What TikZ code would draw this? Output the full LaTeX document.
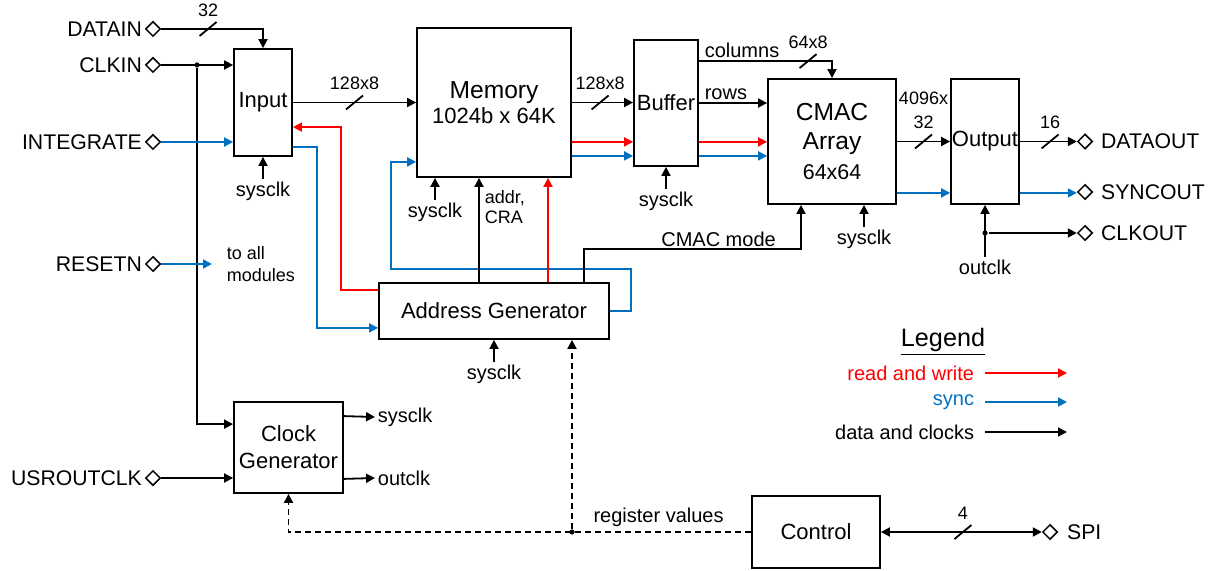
\documentclass[tikz,border=0pt]{standalone}
\usepackage{fontspec}
\setmainfont{Liberation Sans}
\usepackage{tikz}
\usetikzlibrary{shapes}
\usetikzlibrary{arrows.meta}
\usetikzlibrary{calc}
\definecolor{syncblue}{RGB}{0,112,192}

\begin{document}
\begin{tikzpicture}[x=0.5pt,y=-0.5pt,line width=0.9pt,>={Triangle[length=4.5pt,width=4.5pt]}]
\tikzstyle{block}=[draw,rectangle,inner sep=0pt,font=\fontsize{11}{13.5}\selectfont,align=center]
\tikzstyle{port}=[draw,diamond,aspect=1,minimum width=7.5pt,minimum height=7.5pt,inner sep=0pt,line width=0.75pt]
\tikzstyle{pname}=[font=\fontsize{10.6}{12}\selectfont,inner sep=1pt]
\tikzstyle{sig}=[font=\fontsize{10}{12}\selectfont,inner sep=1pt]
\tikzstyle{rw}=[draw=red]
\tikzstyle{sync}=[draw=syncblue]
\tikzstyle{ctl}=[dash pattern=on 3pt off 2pt]
\tikzstyle{dot}=[circle,fill,inner sep=0pt,minimum size=2.6pt]
\tikzstyle{bw}=[inner sep=0pt,minimum size=0pt,label={[font=\fontsize{9}{12}\selectfont,align=center,inner sep=0.5pt,yshift=5pt]above:#1}]
\useasboundingbox (0,0) rectangle (1213,571);

% blocks
\node[block,minimum width=29pt,minimum height=53.5pt] (input) at (263,102.5) {Input};
\node[block,minimum width=77pt,minimum height=74.5pt,font=\fontsize{12.3}{12.5}\selectfont] (memory) at (494,102.5) {Memory\\{\fontsize{11}{12.5}\selectfont 1024b x 64K}};
\node[block,minimum width=32pt,minimum height=63pt] (buffer) at (666,103) {Buffer};
\node[block,minimum width=64pt,minimum height=62.5pt,font=\fontsize{12.3}{14.7}\selectfont] (cmac) at (832,141.5) {CMAC\\Array\\{\fontsize{10.7}{14.7}\selectfont 64x64}};
\node[block,minimum width=34pt,minimum height=62.5pt] (output) at (985,141.5) {Output};
\node[block,minimum width=115pt,minimum height=28pt] (ag) at (494,311) {Address Generator};
\node[block,minimum width=54.5pt,minimum height=45.5pt] (clockgen) at (288.5,447.5) {Clock\\Generator};
\node[block,minimum width=64pt,minimum height=36pt] (control) at (816,532) {Control};

% pins
\node[port,label={[pname]left:DATAIN}] (pdatain) at (153,29) {};
\node[port,label={[pname]left:CLKIN}] (pclkin) at (153,65) {};
\node[port,label={[pname]left:INTEGRATE}] (pinteg) at (153,142) {};
\node[port,label={[pname]left:RESETN}] (preset) at (153,264) {};
\node[port,label={[pname]left:USROUTCLK}] (pusrclk) at (153,478) {};
\node[port,label={[pname,xshift=2.5pt]right:DATAOUT}] (pdataout) at (1085,141.5) {};
\node[port,label={[pname,xshift=2.5pt]right:SYNCOUT}] (psyncout) at (1085,192) {};
\node[port,label={[pname,xshift=2.5pt]right:CLKOUT}] (pclkout) at (1085,233) {};
\node[port,label={[pname,xshift=3pt]right:SPI}] (pspi) at (1050,532) {};

% inputs
\draw[->] (pdatain.east) -| node[bw=32,pos=0.23] (b1) {} (input.north);
\draw[->] (pclkin.east) -- (pclkin -| input.west);
\node[dot] (clkdot) at (197,65) {};
\draw[->] (clkdot) |- ($(clockgen.north west)+(0,23)$);
\draw[sync,->] (pinteg.east) -- (pinteg -| input.west);
\node[sig,font=\fontsize{9}{11}\selectfont,align=left,anchor=west] (toall) at (224,264) {to all\\modules};
\draw[sync,->] (preset.east) -- ($(toall.west)+(-12,0)$);
\draw[->] (pusrclk.east) -- (pusrclk -| clockgen.west);

% input and memory
\draw[->] (input.east) -- node[bw=128x8] (b2) {} (memory.west);
\draw[rw,->] ($(ag.north west)+(0,8)$) -- ++(-37,0) |- ($(input.north east)+(0,79)$);
\draw[sync,->] ($(input.north east)+(0,99)$) -- ++(24,0) |- ($(ag.south west)+(0,-12)$);
\draw[sync,->] (ag.east) -- ++(21,0) -- ++(0,-42) -| ($(memory.south west)+(-25,-16)$) -- ($(memory.south west)+(0,-16)$);
\draw[->] ($(ag.north)+(-15,0)$) -- ($(memory.south)+(-15,0)$);
\node[sig,font=\fontsize{9}{10}\selectfont,align=left,anchor=west] (addr) at (482,207) {addr,\\CRA};
\draw[rw,->] ($(ag.north)+(54,0)$) -- ($(memory.south)+(54,0)$);

% sysclk taps
\node[sig] (isys) at (263,191) {sysclk};
\draw[->] (isys) -- (input);
\node[sig] (msys) at (435,212) {sysclk};
\draw[->] (msys) -- (msys |- memory.south);
\node[sig] (bsys) at (666,201) {sysclk};
\draw[->] (bsys) -- (buffer);
\node[sig] (csys) at (864,239) {sysclk};
\draw[->] (csys) -- (csys |- cmac.south);
\node[sig] (asys) at (494,374) {sysclk};
\draw[->] (asys) -- (ag);

% memory to buffer to cmac
\draw[->] (memory.east) -- node[bw=128x8,pos=0.46] (b3) {} (memory.east -| buffer.west);
\draw[rw,->] ($(memory.south east)+(0,-36)$) coordinate (mr) -- (mr -| buffer.west);
\draw[sync,->] ($(memory.south east)+(0,-22)$) coordinate (mb) -- (mb -| buffer.west);
\draw[->] ($(buffer.north east)+(0,22)$) -| node[pos=0,sig,anchor=south west,xshift=1.5pt]{columns} node[bw=64x8,pos=0.41] (b4) {} (cmac.north);
\draw[->] (buffer.east) -- node[pos=0,sig,anchor=south west,xshift=1.5pt]{rows} (buffer.east -| cmac.west);
\draw[rw,->] ($(buffer.south east)+(0,-25)$) coordinate (br) -- (br -| cmac.west);
\draw[sync,->] ($(buffer.south east)+(0,-11)$) coordinate (bb) -- (bb -| cmac.west);
\draw[->] ($(ag.north)+(90,0)$) -- ++(0,-33) -| node[pos=0.31,above,sig]{CMAC mode} ($(cmac.south)+(-31,0)$);

% cmac to output
\draw[->] (cmac.east) -- node[bw={4096x\\32}] (b5) {} (output.west);
\draw[sync,->] ($(cmac.south east)+(0,-12)$) coordinate (cb) -- (cb -| output.west);
\draw[->] (output.east) -- node[bw=16,pos=0.53] (b6) {} (output.east -| pdataout.west);
\draw[sync,->] ($(output.south east)+(0,-12)$) coordinate (ob) -- (ob -| psyncout.west);
\node[sig] (oclk) at (985,267) {outclk};
\draw[->] (oclk) -- (output);
\node[dot] (odot) at (oclk |- pclkout) {};
\draw[->] (odot) -- (pclkout.west);

% clock generator
\node[sig,anchor=west] (gsys) at (375,417) {sysclk};
\draw[->] ($(clockgen.north east)+(0,15)$) -- (gsys.west);
\node[sig,anchor=west] (gout) at (375,478) {outclk};
\draw[->] ($(clockgen.south east)+(0,-15)$) -- (gout.west);

% control
\draw[ctl,->] (control.west) -| node[pos=0.1,above,sig,inner sep=2pt]{register values} (clockgen.south);
\node[dot] (rdot) at (572,532) {};
\draw[ctl,->] (rdot) -- (rdot |- ag.south);
\draw[<->] (control.east) -- node[bw=4,pos=0.51] (b7) {} (pspi.west);

% bus width marks
\foreach \i in {1,...,7}
  \draw (b\i) +(-8.5,7) -- +(8.5,-7);

% legend
\node[font=\fontsize{12.6}{14}\selectfont] (legend) at (943,342) {\underline{Legend}};
\foreach \c/\t/\y in {red/read and write/373,syncblue/sync/402,black/data and clocks/432}{
  \node[sig,anchor=east,text=\c] (l\y) at (977,\y) {\t};
  \draw[->,draw=\c] ($(l\y.east)+(8,0)$) -- ++(82,0);
}
\end{tikzpicture}
\end{document}
